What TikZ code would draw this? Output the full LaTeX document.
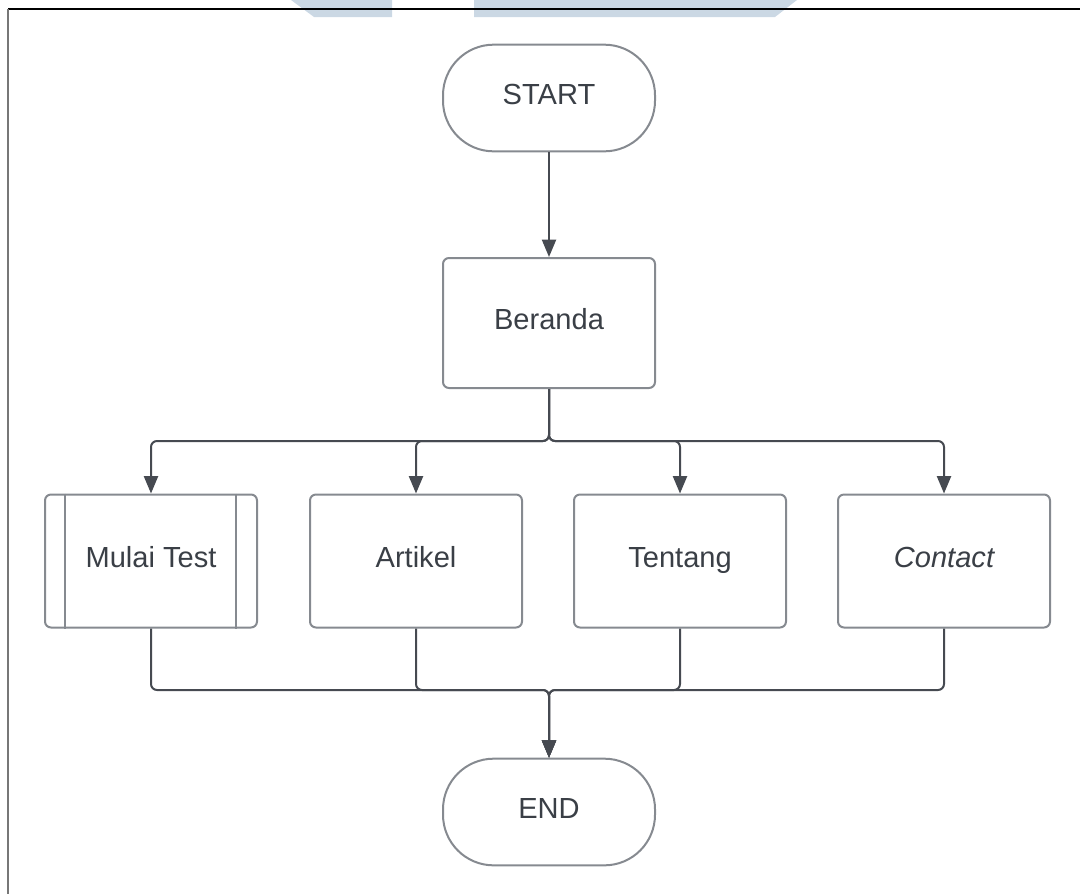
\documentclass[tikz,border=0pt]{standalone}
\usepackage{fontspec}
\setmainfont{Liberation Sans}
\usetikzlibrary{arrows.meta}
\definecolor{edge}{HTML}{868A90}
\definecolor{ink}{HTML}{3A3F46}
\definecolor{wire}{HTML}{464A51}
\definecolor{band}{HTML}{CBD8E4}
\definecolor{side}{HTML}{777777}

\begin{document}
\begin{tikzpicture}[x=0.75pt,y=-0.75pt,
  label/.style={text=ink,font=\fontsize{21.8}{26}\selectfont,inner sep=0pt,
    text height=15pt,text depth=6pt},
  terminal/.style={label,draw=edge,line width=1.5pt,rounded corners=38pt,
    minimum width=159pt,minimum height=80pt},
  process/.style={label,draw=edge,line width=1.5pt,rounded corners=4.5pt,
    minimum width=159pt,minimum height=99.75pt},
  flow/.style={draw=wire,line width=1.5pt,rounded corners=4.5pt,
    -{Triangle[width=10.5pt,length=13pt]}}
]
\useasboundingbox (0,0) rectangle (1080,894);

% header band and page frame
\fill[band] (291,0) -- (392,0) -- (392,17) -- (314,17) -- cycle;
\fill[band] (474,0) -- (797,0) -- (775,17) -- (474,17) -- cycle;
\draw[black,line width=1.1pt] (8,9) -- (1080,9);
\draw[side,line width=1.5pt] (8,9) -- (8,894);

% nodes
\node[terminal] (start) at (549,98) {START};
\node[process,minimum height=97.5pt] (beranda) at (549,323) {Beranda};
\node[process] (mulai) at (151,561) {Mulai Test};
\node[process] (artikel) at (416,561) {Artikel};
\node[process] (tentang) at (680,561) {Tentang};
\node[process] (contact) at (944,561) {\itshape Contact};
\node[terminal] (end) at (549,812) {END};

% predefined-process side bars
\draw[edge,line width=1.5pt] ([xshift=15.75pt]mulai.north west) -- ([xshift=15.75pt]mulai.south west);
\draw[edge,line width=1.5pt] ([xshift=-16.5pt]mulai.north east) -- ([xshift=-16.5pt]mulai.south east);

% connectors
\coordinate (split) at (549,441);
\coordinate (merge) at (549,690);
\draw[flow] (start) -- (beranda);
\foreach \t in {mulai,artikel,tentang,contact}
  \draw[flow] (beranda.south) -- (split) -| (\t.north);
\foreach \t in {mulai,artikel,tentang,contact}
  \draw[flow] (\t.south) |- (merge) -- (end.north);
\end{tikzpicture}
\end{document}
